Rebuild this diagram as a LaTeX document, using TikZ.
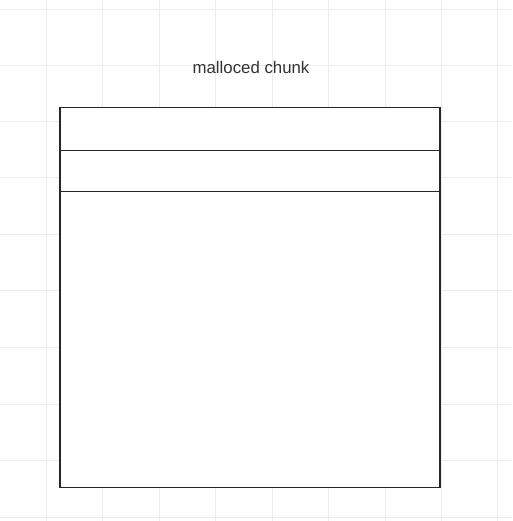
\documentclass[tikz,border=0pt]{standalone}
\usepackage{fontspec}
\setmainfont{Liberation Sans}
\begin{document}
\begin{tikzpicture}[x=1pt,y=-1pt,
  gridline/.style={draw=black!7,line width=1pt},
  field/.style={draw=black!85,line width=1.3pt,fill=white,minimum width=380pt,inner sep=0pt,outer sep=0pt,anchor=north west},
  title/.style={font=\fontsize{16.8}{20}\selectfont,text=black!80,inner sep=0pt}]
\useasboundingbox (0,0) rectangle (512,521);
\fill[white] (0,0) rectangle (512,521);
\foreach \gx in {46,102.5,159,215.5,272,328.5,385,441,497.5}
  \draw[gridline] (\gx,0) -- (\gx,521);
\foreach \gy in {9.5,66,122,178,234,290.5,347,404,460,517}
  \draw[gridline] (0,\gy) -- (512,\gy);
\node[field,minimum height=380pt] (body) at (60,107.5) {};
\node[field,minimum height=43pt] (f1) at (60,107.5) {};
\node[field,minimum height=41pt] (f2) at (60,150.5) {};
\node[title] (t) at (251,67) {malloced chunk};
\end{tikzpicture}
\end{document}
